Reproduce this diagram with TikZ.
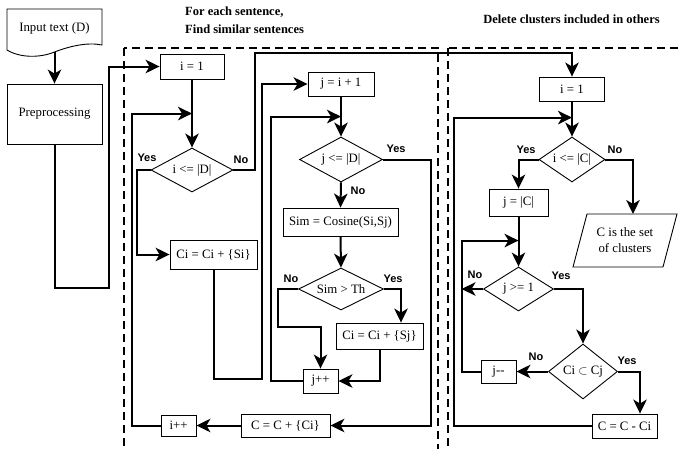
\documentclass[tikz,border=0pt]{standalone}
\usepackage{fontspec}
\setmainfont{Liberation Serif}
\newfontfamily\labelfont{Liberation Sans}
\usetikzlibrary{arrows.meta,shapes.geometric}

\begin{document}
\begin{tikzpicture}[x=1pt,y=-1pt,
  txt/.style={font=\fontsize{12.8}{15}\selectfont},
  box/.style={txt,draw,line width=0.9pt,rectangle,inner sep=0pt},
  dec/.style={txt,draw,line width=0.9pt,diamond,inner sep=0pt,aspect=2},
  link/.style={line width=2pt},
  conn/.style={link,-{Stealth[length=14pt,width=13.5pt,inset=4pt]}},
  yn/.style={font=\labelfont\bfseries\fontsize{11}{12}\selectfont,inner sep=0pt},
  region/.style={line width=1.6pt,dash pattern=on 8pt off 5pt},
  title/.style={font=\bfseries\fontsize{12.5}{15}\selectfont,inner sep=0pt}
]
\useasboundingbox (0,0) rectangle (681,448);
\clip (0,0) rectangle (681,448);

% the two dashed stages
\draw[region] (124,48) rectangle (438,470);
\draw[region] (448,48) rectangle (700,470);

% stage titles
\node[title,anchor=west] (t1a) at (185,12) {For each sentence,};
\node[title,anchor=west] (t1b) at (185,29) {Find similar sentences};
\node[title] (t2) at (571.5,19) {Delete clusters included in others};

% input document and preprocessing
\node[txt,minimum width=95,minimum height=38,inner sep=0pt] (doc) at (54.5,28) {Input text (D)};
\draw[line width=0.9pt] (7,9) -- (102,9) -- (102,45)
  .. controls (88,42) and (70,46) .. (54.5,52)
  .. controls (40,58) and (20,58) .. (7,50) -- cycle;
\node[box,minimum width=95,minimum height=60] (pre) at (54.5,114) {Preprocessing};

% stage 1: building clusters
\node[box,minimum width=64,minimum height=25] (i1) at (192,66.5) {i = 1};
\node[dec,minimum width=82,minimum height=44] (d1) at (192,170) {i <= |D|};
\node[box,minimum width=87,minimum height=29] (ci1) at (213.5,254.5) {Ci = Ci + \{Si\}};
\node[box,minimum width=66,minimum height=24] (j1) at (341,84) {j = i + 1};
\node[dec,minimum width=83,minimum height=45] (d2) at (341,159.5) {j <= |D|};
\node[box,minimum width=115,minimum height=28] (sim) at (340.5,222) {Sim = Cosine(Si,Sj)};
\node[dec,minimum width=85,minimum height=42] (d3) at (341,289) {Sim > Th};
\node[box,minimum width=87,minimum height=26] (cj) at (379.5,336) {Ci = Ci + \{Sj\}};
\node[box,minimum width=35,minimum height=24] (jpp) at (320.5,381) {j++};
\node[box,minimum width=89,minimum height=23] (cc) at (285.5,425.5) {C = C + \{Ci\}};
\node[box,minimum width=35,minimum height=21] (ipp) at (178.5,425.5) {i++};

% stage 2: removing nested clusters
\node[box,minimum width=65,minimum height=24] (i2) at (572,89) {i = 1};
\node[dec,minimum width=66,minimum height=45] (d4) at (572,159.5) {i <= |C|};
\node[box,minimum width=59,minimum height=27] (jc) at (518.5,202.5) {j = |C|};
\node[dec,minimum width=70,minimum height=44] (d5) at (518.5,289) {j >= 1};
\node[dec,minimum width=69,minimum height=55] (d6) at (583,371.5) {Ci $\subset$ Cj};
\node[box,minimum width=35,minimum height=23] (jmm) at (498.5,371.5) {j-{}-};
\node[box,minimum width=65,minimum height=24] (cmc) at (624.5,426) {C = C - Ci};
\node[txt,align=center,inner sep=0pt] (res) at (625,240.5) {C is the set\\[1pt]of clusters};
\draw[line width=0.9pt] (587,214) -- (677,214) -- (663,267) -- (573,267) -- cycle;
\coordinate (resTop) at (633,214);
\coordinate (jback) at ([xshift=-19pt]jmm.west);

% connectors
\draw[conn] ([yshift=-5pt]doc.south) -- (pre.north);
\draw[conn] (pre.south) -- ++(0,144) -- ++(54,0) |- (i1.west);
\draw[conn] (i1.south) -- (d1.north);
\draw[conn] (d1.west) -- ++(-14,0) |- (ci1.west);
\draw[conn] (d1.east) -- ++(22,0) |- ([yshift=24pt]i2.north) -- (i2.north);
\draw[conn] (ci1.south) |- ++(48.5,110) |- (j1.west);
\draw[conn] (j1.south) -- (d2.north);
\draw[conn] (d2.south) -- (sim.north);
\draw[conn] (sim.south) -- (d3.north);
\draw[conn] (d3.east) -| ([xshift=21.5pt]cj.north);
\draw[conn] (d3.west) -- ++(-20.5,0) |- ([yshift=42pt]jpp.north) -- (jpp.north);
\draw[conn] (cj.south) |- (jpp.east);
\draw[conn] (jpp.west) -- ++(-32,0) |- ([yshift=20pt]d2.north);
\draw[conn] (d2.east) -- ++(48,0) |- (cc.east);
\draw[conn] (cc.west) -- (ipp.east);
\draw[conn] (ipp.west) -- ++(-29,0) |- ([yshift=34pt]d1.north);

\draw[conn] (i2.south) -- (d4.north);
\draw[conn] (d4.west) -| (jc.north);
\draw[conn] (d4.east) -| (resTop);
\draw[conn] (jc.south) -- (d5.north);
\draw[conn] (d5.west) -- (d5.west -| jback);
\draw[conn] (d5.east) -| (d6.north);
\draw[conn] (d6.west) -- (jmm.east);
\draw[conn] (d6.east) -| ([xshift=15.5pt]cmc.north);
\draw[conn] (jmm.west) -- (jback) |- ([yshift=26pt]d5.north);
\draw[conn] (cmc.west) -- ++(-138,0) |- ([yshift=19pt]d4.north);

% branch labels
\node[yn] (y1) at (147,158) {Yes};
\node[yn] (n1) at (241,160) {No};
\node[yn] (y2) at (396,149) {Yes};
\node[yn] (n2) at (358,191) {No};
\node[yn] (n3) at (291,279) {No};
\node[yn] (y3) at (393,279) {Yes};
\node[yn] (y4) at (526,150) {Yes};
\node[yn] (n4) at (615,150) {No};
\node[yn] (n5) at (475,275) {No};
\node[yn] (y5) at (561,276) {Yes};
\node[yn] (n6) at (536,357) {No};
\node[yn] (y6) at (627,361) {Yes};
\end{tikzpicture}
\end{document}
